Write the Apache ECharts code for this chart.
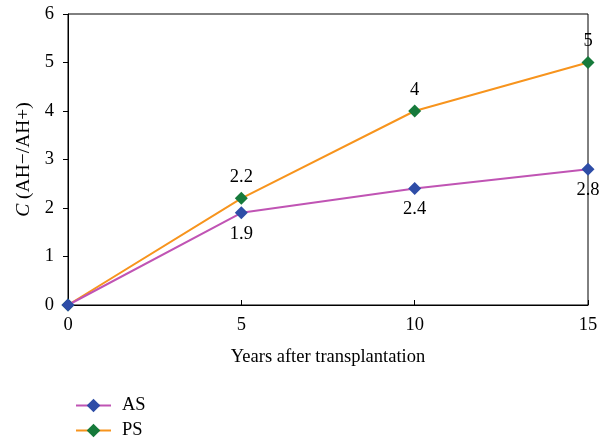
<!DOCTYPE html>
<html><head><meta charset="utf-8">
<script src="https://cdn.jsdelivr.net/npm/echarts@6/dist/echarts.min.js"></script>
<style>html,body{margin:0;padding:0;background:#fff}#c{width:605px;height:441px}</style>
</head><body><div id="c"></div>
<script>
const years = [0, 5, 10, 15];
const asValues = [0, 1.9, 2.4, 2.8];
const psValues = [0, 2.2, 4, 5];
const xTicks = [0, 5, 10, 15];
const yTicks = [0, 1, 2, 3, 4, 5, 6];

const font = 'Liberation Serif';
const fs = 18.5;
const chart = echarts.init(document.getElementById('c'));
function pairs(v){ return years.map((y,i)=>[y, v[i]]); }
const legendBase = {
  left: 70, itemWidth: 35, itemHeight: 17, itemGap: 10,
  textStyle: {fontFamily: font, fontSize: fs, color: '#000', padding: [0, 0, 0, 6]}
};
chart.setOption({
  animation: false,
  textStyle: {fontFamily: font},
  grid: {left: 68, right: 17, top: 14, bottom: 136, show: true, borderColor: '#000', borderWidth: 1, containLabel: false},
  legend: [
    Object.assign({top: 391, data: ['AS']}, legendBase),
    Object.assign({top: 416, data: ['PS']}, legendBase)
  ],
  xAxis: {
    type: 'value', min: 0, max: 15, interval: 5,
    name: 'Years after transplantation', nameLocation: 'middle', nameGap: 43,
    nameTextStyle: {fontFamily: font, fontSize: fs, color: '#000'},
    axisLine: {lineStyle: {color: '#000', width: 1}},
    axisTick: {inside: true, length: 5, lineStyle: {color: '#000'}},
    axisLabel: {fontFamily: font, fontSize: fs, color: '#000', margin: 11},
    splitLine: {show: false}
  },
  yAxis: {
    type: 'value', min: 0, max: 6, interval: 1,
    name: '{i|C} (AH−/AH+)', nameLocation: 'middle', nameGap: 29,
    nameTextStyle: {fontFamily: font, fontSize: 19.5, color: '#000', rich: {i: {fontStyle: 'italic', fontFamily: font, fontSize: 19.5, color: '#000'}}},
    axisLine: {show: true, lineStyle: {color: '#000', width: 1}},
    axisTick: {show: true, length: 5, lineStyle: {color: '#000'}},
    axisLabel: {fontFamily: font, fontSize: fs, color: '#000', margin: 14},
    splitLine: {show: false}
  },
  series: [
    {
      name: 'AS', type: 'line', data: pairs(asValues),
      symbol: 'diamond', symbolSize: 13,
      lineStyle: {color: '#C054B4', width: 2},
      itemStyle: {color: '#2E4DA7'},
      label: {show: true, position: 'bottom', distance: 5, fontFamily: font, fontSize: fs, color: '#000',
        formatter: p => p.value[1] === 0 ? '' : String(p.value[1])},
      z: 3
    },
    {
      name: 'PS', type: 'line', data: pairs(psValues),
      symbol: 'diamond', symbolSize: 13,
      lineStyle: {color: '#F7941D', width: 2},
      itemStyle: {color: '#167A3B'},
      label: {show: true, position: 'top', distance: 5, fontFamily: font, fontSize: fs, color: '#000',
        formatter: p => p.value[1] === 0 ? '' : String(p.value[1])},
      z: 2
    }
  ]
});
</script></body></html>
